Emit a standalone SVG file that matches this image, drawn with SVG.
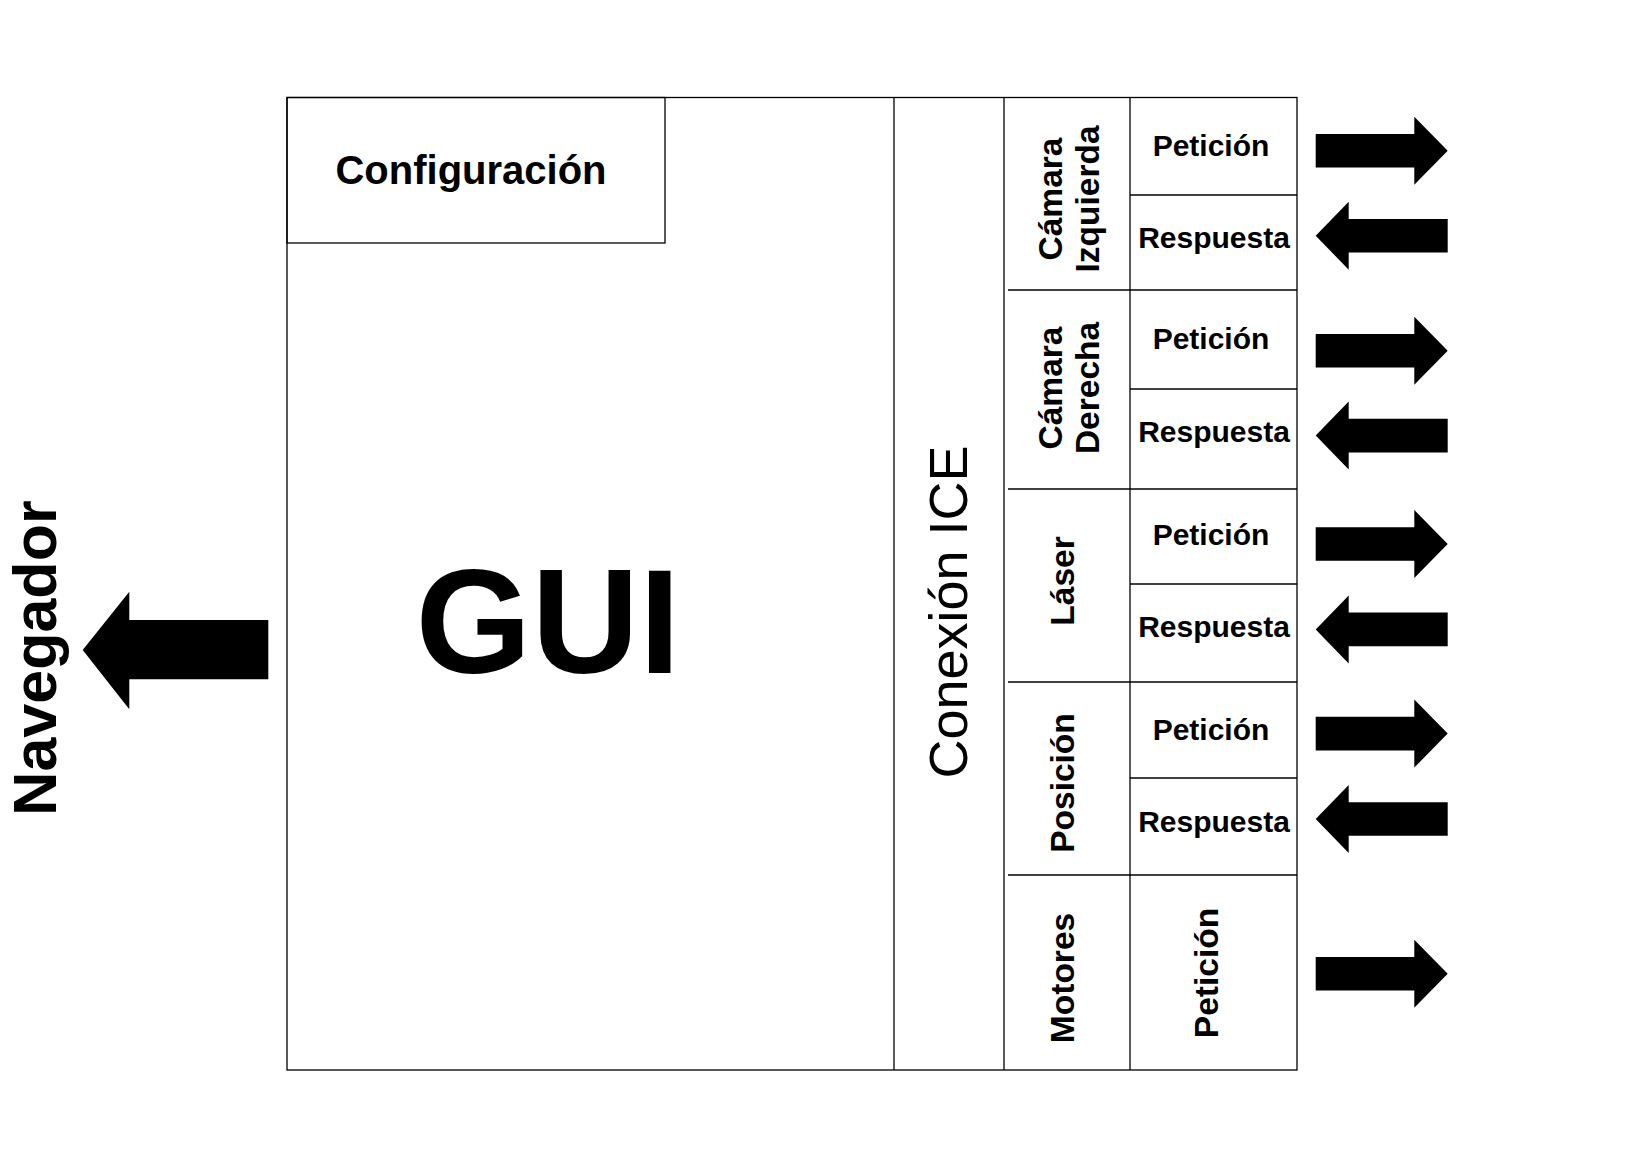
<svg xmlns="http://www.w3.org/2000/svg" width="1634" height="1153" viewBox="0 0 1634 1153">
<defs>
<style>
.ln{stroke:#000;stroke-width:1.3;fill:none}
.b{font-family:"Liberation Sans",Arial,sans-serif;font-weight:bold;fill:#000}
.r{font-family:"Liberation Sans",Arial,sans-serif;fill:#000}
.h{font-size:30px;text-anchor:middle}
.v{font-size:33.5px;text-anchor:middle}
.arr{fill:#000}
</style>
<path id="ar" d="M0,-16.8 H98.6 V-34 L132,0 L98.6,34 V16.8 H0 Z"/>
<path id="al" d="M0,0 L33,-34 V-16.8 H132 V16.8 H33 V34 Z"/>
</defs>
<rect width="1634" height="1153" fill="#fff"/>

<g id="frame">
<rect class="ln" x="287" y="97.5" width="1010" height="972.5"/>
<line class="ln" x1="894" y1="97.5" x2="894" y2="1070"/>
<line class="ln" x1="1004" y1="97.5" x2="1004" y2="1070"/>
<line class="ln" x1="1130" y1="97.5" x2="1130" y2="1070"/>
</g>

<g id="configuracion">
<rect class="ln" x="287" y="97.5" width="378" height="145.5"/>
<text class="b" x="471" y="184" font-size="40" text-anchor="middle">Configuración</text>
</g>

<g id="gui">
<text class="b" x="548" y="673" font-size="149" text-anchor="middle">GUI</text>
</g>

<g id="conexion-ice">
<text class="r" transform="translate(967,612) rotate(-90)" font-size="54" text-anchor="middle">Conexión ICE</text>
</g>

<g id="camara-izquierda">
<line class="ln" x1="1008" y1="290" x2="1297" y2="290"/>
<line class="ln" x1="1130" y1="195" x2="1297" y2="195"/>
<text class="b v" transform="translate(1062,199) rotate(-90)">Cámara</text>
<text class="b v" transform="translate(1099,199) rotate(-90)">Izquierda</text>
<text class="b h" x="1211" y="156">Petición</text>
<text class="b h" x="1214" y="248">Respuesta</text>
</g>

<g id="camara-derecha">
<line class="ln" x1="1008" y1="489" x2="1297" y2="489"/>
<line class="ln" x1="1130" y1="389" x2="1297" y2="389"/>
<text class="b v" transform="translate(1062,388) rotate(-90)">Cámara</text>
<text class="b v" transform="translate(1099,388) rotate(-90)">Derecha</text>
<text class="b h" x="1211" y="349">Petición</text>
<text class="b h" x="1214" y="442">Respuesta</text>
</g>

<g id="laser">
<line class="ln" x1="1008" y1="682" x2="1297" y2="682"/>
<line class="ln" x1="1130" y1="584" x2="1297" y2="584"/>
<text class="b v" transform="translate(1074,581) rotate(-90)">Láser</text>
<text class="b h" x="1211" y="545">Petición</text>
<text class="b h" x="1214" y="637">Respuesta</text>
</g>

<g id="posicion">
<line class="ln" x1="1008" y1="875" x2="1297" y2="875"/>
<line class="ln" x1="1130" y1="778" x2="1297" y2="778"/>
<text class="b v" transform="translate(1074,783) rotate(-90)">Posición</text>
<text class="b h" x="1211" y="740">Petición</text>
<text class="b h" x="1214" y="832">Respuesta</text>
</g>

<g id="motores">
<text class="b v" transform="translate(1074,978) rotate(-90)">Motores</text>
<text class="b v" transform="translate(1218,973) rotate(-90)">Petición</text>
</g>

<g id="navegador">
<text class="b" transform="translate(56,658) rotate(-90)" font-size="61" text-anchor="middle">Navegador</text>
</g>

<g id="connectors">
<path class="arr" d="M82.7,650 L129.3,591.7 V620 H268.3 V679.3 H129.3 V709.3 Z"/>
<use class="arr" href="#ar" x="1315.7" y="150.7"/>
<use class="arr" href="#al" x="1315.7" y="235.7"/>
<use class="arr" href="#ar" x="1315.7" y="350.8"/>
<use class="arr" href="#al" x="1315.7" y="435.6"/>
<use class="arr" href="#ar" x="1315.7" y="544"/>
<use class="arr" href="#al" x="1315.7" y="629.4"/>
<use class="arr" href="#ar" x="1315.7" y="733.6"/>
<use class="arr" href="#al" x="1315.7" y="819"/>
<use class="arr" href="#ar" x="1315.7" y="973.7"/>
</g>
</svg>
